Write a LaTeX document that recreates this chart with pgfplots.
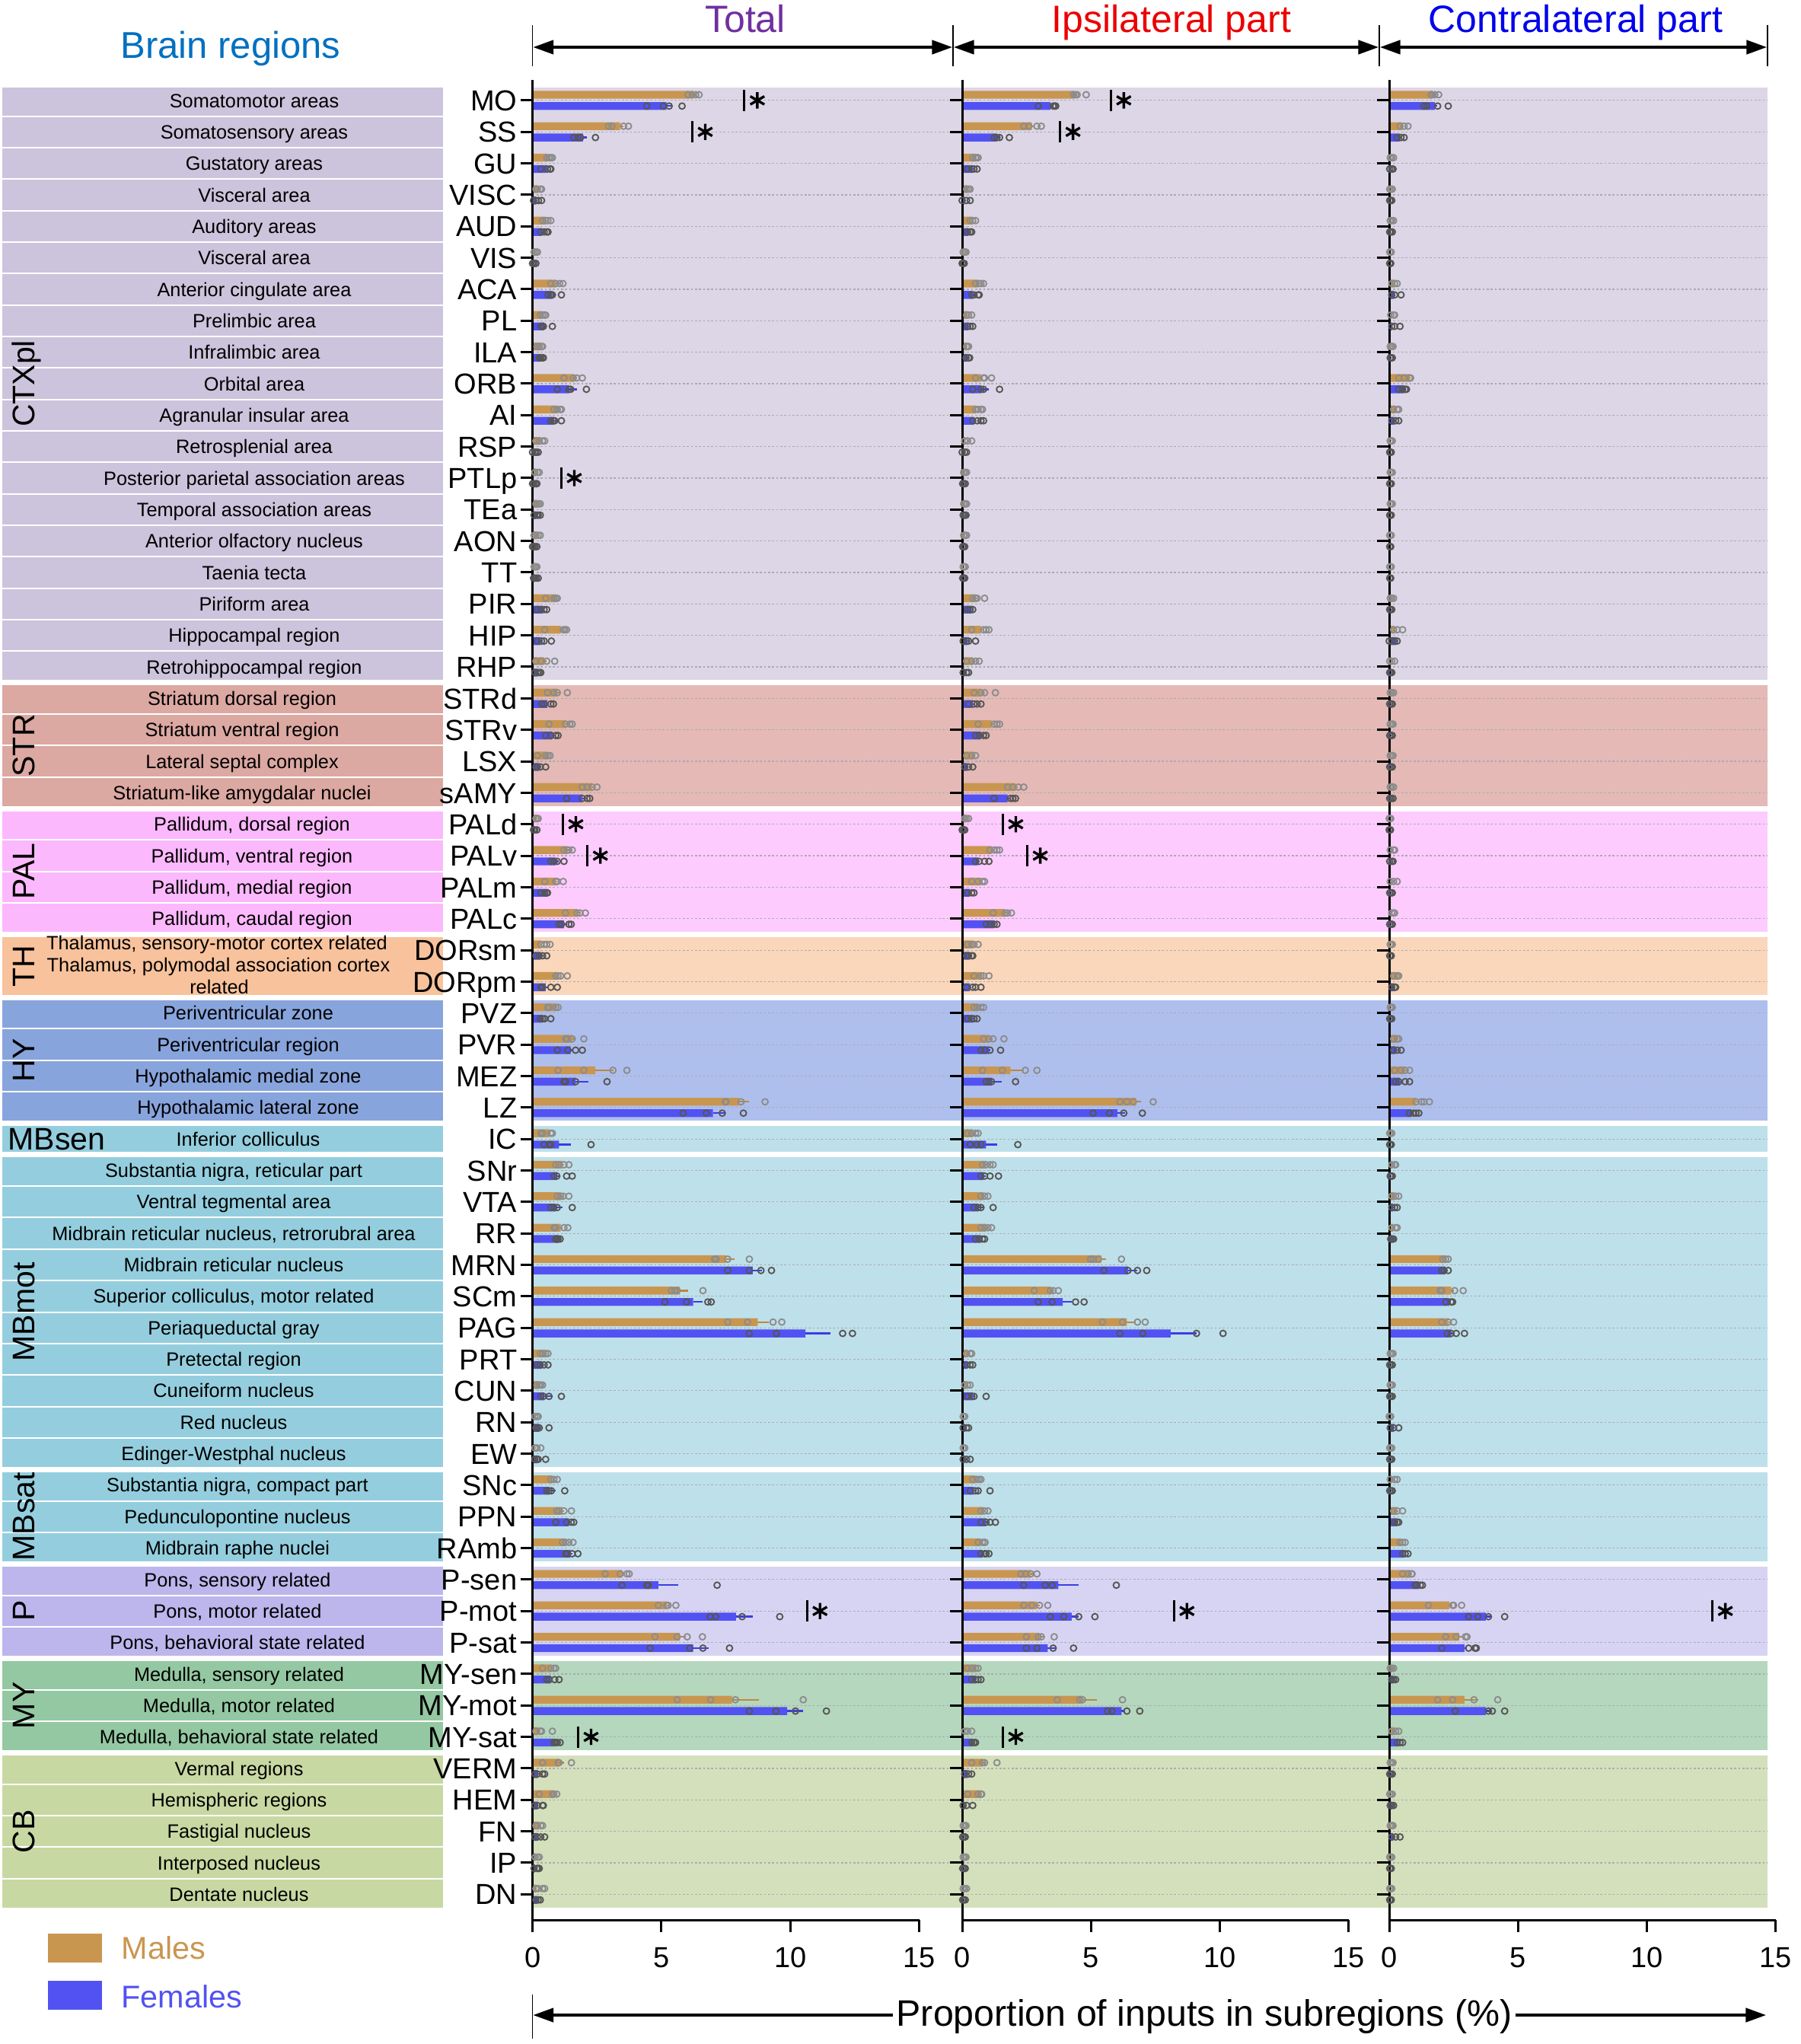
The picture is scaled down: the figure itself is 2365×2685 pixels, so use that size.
\documentclass[border=0pt]{standalone}
\usepackage{pgfplots}
\pgfplotsset{compat=1.18}
\usepackage{pgfplotstable}
\usepackage{fontspec}
\setmainfont{Liberation Sans}
\usetikzlibrary{arrows.meta}

\definecolor{male}{RGB}{201,150,80}
\definecolor{maleerr}{RGB}{190,135,60}
\definecolor{female}{RGB}{82,82,242}
\definecolor{femaleerr}{RGB}{60,60,230}
\definecolor{mpt}{RGB}{140,140,140}
\definecolor{fpt}{RGB}{85,85,85}
\definecolor{bxCTX}{RGB}{204,196,220}\definecolor{bdCTX}{RGB}{220,214,230}
\definecolor{bxSTR}{RGB}{220,168,162}\definecolor{bdSTR}{RGB}{228,185,182}
\definecolor{bxPAL}{RGB}{252,184,252}\definecolor{bdPAL}{RGB}{253,203,253}
\definecolor{bxTH}{RGB}{248,194,156}\definecolor{bdTH}{RGB}{250,214,186}
\definecolor{bxHY}{RGB}{136,164,220}\definecolor{bdHY}{RGB}{174,191,238}
\definecolor{bxMB}{RGB}{148,206,222}\definecolor{bdMB}{RGB}{190,224,234}
\definecolor{bxP}{RGB}{188,182,236}\definecolor{bdP}{RGB}{215,212,243}
\definecolor{bxMY}{RGB}{148,200,162}\definecolor{bdMY}{RGB}{180,215,189}
\definecolor{bxCB}{RGB}{200,216,162}\definecolor{bdCB}{RGB}{212,224,187}
\definecolor{gridc}{RGB}{170,170,180}
\definecolor{brc}{RGB}{0,112,192}
\definecolor{totc}{RGB}{112,48,160}
\definecolor{ipsc}{RGB}{235,0,0}
\definecolor{conc}{RGB}{0,0,235}

\newcommand\labfont{\fontsize{7.6}{8}\selectfont}
\newcommand\abbfont{\fontsize{11.4}{12}\selectfont}
\newcommand\grpfont{\fontsize{12.3}{13}\selectfont}
\newcommand\brfont{\fontsize{14.7}{15}\selectfont}
\newcommand\titfont{\fontsize{15}{16}\selectfont}
\newcommand\tickfont{\fontsize{11.4}{12}\selectfont}
\newcommand\botfont{\fontsize{14.5}{15}\selectfont}
\newcommand\legfont{\fontsize{12.4}{13}\selectfont}

% total
\pgfplotstableread{
i m me f fe a1 a2 a3 a4 b1 b2 b3 b4
0 6.23 0.12 5.20 0.22 6.03 6.20 6.33 6.46 4.43 5.07 5.30 5.80
1 3.40 0.12 1.96 0.15 2.95 3.08 3.53 3.72 1.60 1.76 1.86 2.44
2 0.58 0.06 0.55 0.06 0.55 0.64 0.71 0.77 0.32 0.58 0.68 0.71
3 0.19 0.04 0.13 0.03 0.13 0.19 0.30 0.35 0.04 0.13 0.23 0.35
4 0.51 0.05 0.38 0.05 0.39 0.51 0.60 0.71 0.32 0.45 0.55 0.60
5 0.10 0.03 0.04 0.02 0.06 0.13 0.19 nan 0.00 0.06 0.13 nan
6 0.90 0.08 0.77 0.12 0.71 0.90 1.05 1.18 0.60 0.71 0.77 1.12
7 0.38 0.05 0.45 0.08 0.30 0.39 0.47 0.51 0.32 0.39 0.42 0.77
8 0.32 0.04 0.32 0.04 0.17 0.26 0.35 0.39 0.26 0.32 0.39 0.42
9 1.60 0.12 1.41 0.32 1.22 1.58 1.71 1.93 0.96 1.41 1.48 2.09
10 0.96 0.06 0.83 0.08 0.83 0.96 1.07 1.12 0.71 0.81 0.86 1.12
11 0.32 0.06 0.06 0.03 0.13 0.26 0.39 0.47 0.00 0.09 0.15 0.22
12 0.13 0.03 0.06 0.03 0.09 0.19 0.26 nan 0.00 0.06 0.13 0.17
13 0.19 0.03 0.13 0.03 0.13 0.19 0.26 0.30 0.06 0.17 0.22 0.30
14 0.17 0.03 0.06 0.02 0.06 0.13 0.22 0.30 0.00 0.06 0.10 0.17
15 0.09 0.02 0.06 0.03 0.06 0.12 0.17 nan 0.04 0.09 0.15 0.22
16 0.90 0.06 0.39 0.05 0.51 0.83 0.90 0.96 0.19 0.32 0.45 0.55
17 1.09 0.10 0.32 0.08 0.47 1.19 1.25 1.32 0.19 0.35 0.45 0.73
18 0.45 0.08 0.19 0.03 0.13 0.32 0.55 0.86 0.09 0.19 0.26 0.32
19 0.96 0.10 0.58 0.05 0.58 0.83 0.96 1.35 0.35 0.45 0.71 0.81
20 1.28 0.06 0.77 0.06 0.64 1.28 1.45 1.54 0.51 0.71 0.90 0.99
21 0.58 0.06 0.26 0.04 0.19 0.51 0.60 0.68 0.13 0.19 0.30 0.51
22 2.31 0.10 1.93 0.10 1.93 2.12 2.31 2.50 1.32 1.93 2.12 2.22
23 0.17 0.03 0.06 0.03 0.13 0.19 0.22 nan 0.04 0.09 0.17 nan
24 1.35 0.05 0.90 0.12 1.22 1.35 1.41 1.54 0.71 0.83 0.96 1.22
25 0.90 0.07 0.58 0.03 0.47 0.90 0.96 1.19 0.32 0.47 0.55 0.58
26 1.73 0.10 1.22 0.12 1.28 1.73 1.84 2.05 1.03 1.12 1.41 1.50
27 0.32 0.05 0.32 0.05 0.32 0.45 0.55 0.68 0.13 0.26 0.39 0.55
28 0.96 0.06 0.51 0.06 0.90 0.99 1.09 1.35 0.32 0.39 0.71 0.96
29 0.90 0.05 0.38 0.05 0.58 0.64 0.90 0.99 0.30 0.39 0.47 0.71
30 1.54 0.10 1.48 0.10 1.28 1.35 1.54 1.99 0.96 1.37 1.67 1.93
31 2.44 0.71 1.67 0.49 0.99 1.99 3.12 3.66 1.22 1.28 1.67 2.89
32 8.02 0.39 7.00 0.48 7.48 7.51 8.09 9.02 5.84 6.74 7.36 8.18
33 0.64 0.06 1.03 0.45 0.32 0.39 0.71 0.77 0.45 0.64 0.71 2.27
34 1.16 0.06 0.96 0.10 0.90 1.03 1.22 1.41 0.83 0.94 1.32 1.54
35 1.09 0.06 0.90 0.26 0.96 1.09 1.19 1.41 0.71 0.83 0.96 1.54
36 1.09 0.06 1.03 0.04 0.83 0.90 1.22 1.37 0.90 0.96 0.99 1.07
37 7.50 0.33 8.54 0.36 7.06 7.12 7.57 8.41 7.57 8.41 8.86 9.27
38 5.71 0.32 6.23 0.38 5.39 5.52 5.61 6.61 5.13 5.97 6.80 6.93
39 8.73 0.45 10.59 0.96 7.57 8.34 9.33 9.67 8.41 9.46 12.03 12.41
40 0.51 0.05 0.38 0.05 0.30 0.39 0.51 0.60 0.19 0.30 0.45 0.60
41 0.26 0.04 0.45 0.26 0.17 0.26 0.32 0.39 0.32 0.42 0.64 1.12
42 0.06 0.02 0.26 0.06 0.09 0.17 0.22 nan 0.13 0.19 0.26 0.64
43 0.09 0.02 0.19 0.03 0.09 0.17 0.32 nan 0.09 0.17 0.22 0.51
44 0.77 0.05 0.64 0.26 0.71 0.83 0.96 nan 0.55 0.64 0.73 1.25
45 1.16 0.06 1.41 0.06 0.94 1.03 1.22 1.51 0.90 1.32 1.50 1.60
46 1.28 0.06 1.48 0.06 1.16 1.28 1.41 1.57 1.28 1.35 1.54 1.76
47 3.47 0.12 4.88 0.77 2.82 3.40 3.66 3.75 3.47 4.43 4.49 7.16
48 5.20 0.10 7.89 0.65 4.88 5.20 5.26 5.56 6.89 7.10 8.13 9.59
49 5.71 0.23 6.23 0.61 4.75 5.61 6.00 6.59 4.56 6.10 6.61 7.64
50 0.71 0.05 0.71 0.05 0.39 0.71 0.83 0.90 0.55 0.64 0.86 1.03
51 7.74 1.03 9.88 0.61 5.61 6.91 7.87 10.50 8.41 9.44 10.20 11.40
52 0.26 0.05 0.83 0.08 0.13 0.30 0.35 0.77 0.83 0.90 0.96 1.07
53 1.03 0.19 0.19 0.04 0.39 0.99 1.03 1.51 0.10 0.19 0.39 0.47
54 0.83 0.05 0.19 0.03 0.26 0.77 0.83 0.94 0.09 0.19 0.39 0.42
55 0.26 0.04 0.19 0.04 0.13 0.19 0.32 0.39 0.09 0.19 0.32 0.47
56 0.09 0.02 0.10 0.03 0.10 0.19 0.26 nan 0.06 0.17 0.22 0.26
57 0.13 0.03 0.19 0.03 0.13 0.22 0.39 0.47 0.13 0.22 0.30 nan
}\tot

% ipsilateral
\pgfplotstableread{
i m me f fe a1 a2 a3 a4 b1 b2 b3 b4
0 4.36 0.10 3.42 0.12 4.32 4.40 4.46 4.81 2.95 3.53 3.59 3.63
1 2.70 0.10 1.35 0.10 2.39 2.59 2.90 3.07 1.24 1.35 1.45 1.83
2 0.52 0.04 0.41 0.05 0.41 0.52 0.58 0.62 0.21 0.37 0.46 0.58
3 0.21 0.03 0.10 0.03 0.17 0.25 0.31 nan 0.00 0.17 0.31 nan
4 0.41 0.04 0.25 0.03 0.31 0.41 0.52 nan 0.21 0.31 0.37 nan
5 0.08 0.02 0.04 0.02 0.04 0.10 0.15 nan 0.00 0.04 0.08 nan
6 0.62 0.05 0.41 0.05 0.52 0.66 0.73 0.83 0.37 0.46 0.62 0.66
7 0.21 0.03 0.25 0.04 0.17 0.25 0.37 nan 0.21 0.31 0.41 nan
8 0.17 0.03 0.21 0.03 0.17 0.21 0.25 nan 0.15 0.25 0.29 nan
9 0.73 0.08 0.73 0.31 0.52 0.83 0.87 1.14 0.41 0.73 0.83 1.45
10 0.52 0.04 0.46 0.05 0.52 0.62 0.73 0.79 0.41 0.58 0.73 0.83
11 0.10 0.03 0.04 0.02 0.10 0.21 0.37 nan 0.00 0.10 0.17 nan
12 0.08 0.02 0.05 0.02 0.06 0.12 0.17 nan 0.02 0.06 0.12 nan
13 0.10 0.02 0.08 0.02 0.06 0.12 0.17 nan 0.04 0.10 0.15 nan
14 0.10 0.02 0.05 0.02 0.06 0.12 0.17 nan 0.02 0.06 0.10 nan
15 0.06 0.02 0.05 0.02 0.04 0.08 0.12 nan 0.02 0.06 0.10 nan
16 0.52 0.06 0.37 0.04 0.41 0.52 0.58 0.87 0.21 0.31 0.41 nan
17 0.73 0.08 0.21 0.05 0.37 0.83 0.93 1.04 0.04 0.17 0.25 0.52
18 0.41 0.05 0.10 0.03 0.17 0.37 0.52 0.66 0.04 0.17 0.25 nan
19 0.73 0.10 0.41 0.05 0.46 0.73 0.87 1.29 0.25 0.46 0.58 0.73
20 1.14 0.06 0.73 0.05 0.62 1.24 1.35 1.45 0.52 0.66 0.83 0.93
21 0.46 0.04 0.21 0.04 0.17 0.37 0.52 nan 0.10 0.25 0.41 nan
22 2.07 0.10 1.76 0.08 1.76 1.97 2.18 2.39 1.24 1.87 1.97 2.07
23 0.15 0.03 0.05 0.02 0.10 0.17 0.25 nan 0.00 0.06 0.10 nan
24 1.14 0.06 0.62 0.06 1.08 1.24 1.35 1.45 0.52 0.66 0.87 1.04
25 0.73 0.05 0.31 0.04 0.37 0.62 0.79 0.87 0.21 0.37 0.46 nan
26 1.66 0.08 1.24 0.06 1.20 1.66 1.76 1.91 0.93 1.08 1.24 1.35
27 0.41 0.04 0.31 0.03 0.21 0.37 0.46 0.62 0.17 0.25 0.37 0.41
28 0.73 0.06 0.31 0.05 0.46 0.73 0.83 1.04 0.17 0.41 0.52 0.73
29 0.62 0.04 0.41 0.04 0.46 0.58 0.73 0.83 0.21 0.37 0.46 0.58
30 1.04 0.08 1.04 0.06 0.83 1.04 1.20 1.62 0.73 0.87 1.08 1.49
31 1.87 0.52 1.14 0.41 0.79 1.56 2.45 2.90 0.93 1.04 1.14 2.07
32 6.74 0.20 6.02 0.31 6.12 6.39 6.64 7.41 5.08 5.71 6.27 6.99
33 0.41 0.05 0.93 0.42 0.21 0.37 0.52 0.62 0.31 0.58 0.73 2.16
34 0.93 0.06 0.83 0.10 0.79 0.93 1.08 1.20 0.73 0.87 1.08 1.41
35 0.83 0.04 0.62 0.25 0.73 0.87 1.00 nan 0.46 0.62 0.73 1.20
36 0.93 0.05 0.73 0.04 0.73 0.87 1.00 1.14 0.52 0.66 0.79 0.87
37 5.39 0.20 6.43 0.37 4.98 5.08 5.29 6.18 5.50 6.43 6.80 7.16
38 3.42 0.10 3.90 0.35 2.80 3.42 3.53 3.73 2.95 3.49 4.40 4.73
39 6.39 0.35 8.09 1.00 5.44 6.22 6.80 7.10 6.12 7.01 9.09 10.12
40 0.21 0.03 0.21 0.04 0.17 0.31 0.37 nan 0.17 0.31 0.41 nan
41 0.17 0.03 0.41 0.10 0.10 0.21 0.31 nan 0.21 0.37 0.46 0.93
42 0.06 0.02 0.12 0.03 0.04 0.10 nan nan 0.04 0.17 0.25 nan
43 0.06 0.02 0.10 0.03 0.04 0.10 nan nan 0.04 0.17 0.31 nan
44 0.52 0.04 0.46 0.10 0.41 0.58 0.66 0.73 0.31 0.52 0.62 1.08
45 0.83 0.05 0.93 0.06 0.73 0.87 1.00 nan 0.73 0.93 1.08 1.29
46 0.73 0.05 0.79 0.05 0.62 0.79 0.87 0.89 0.73 0.87 0.93 1.04
47 2.66 0.10 3.73 0.79 2.28 2.45 2.66 2.90 2.39 3.22 3.49 5.98
48 2.90 0.12 4.25 0.27 2.39 2.70 3.00 3.32 3.42 3.94 4.52 5.15
49 3.00 0.20 3.32 0.31 2.49 2.95 3.07 3.57 2.49 2.90 3.53 4.32
50 0.52 0.04 0.52 0.04 0.21 0.37 0.52 0.62 0.37 0.52 0.62 0.73
51 4.67 0.56 6.18 0.15 3.69 4.56 4.67 6.22 5.64 5.81 6.39 6.89
52 0.10 0.03 0.41 0.04 0.10 0.21 0.37 nan 0.37 0.46 0.52 nan
53 0.79 0.10 0.21 0.03 0.37 0.79 0.87 1.35 0.10 0.25 0.37 nan
54 0.73 0.05 0.10 0.03 0.21 0.62 0.73 0.76 0.04 0.17 0.41 nan
55 0.06 0.02 0.06 0.02 0.04 0.10 0.15 nan 0.02 0.08 0.12 nan
56 0.06 0.02 0.06 0.02 0.04 0.10 0.15 nan 0.02 0.08 0.12 nan
57 0.06 0.02 0.06 0.02 0.04 0.10 0.17 nan 0.02 0.06 0.12 nan
}\ips

% contralateral
\pgfplotstableread{
i m me f fe a1 a2 a3 a4 b1 b2 b3 b4
0 1.67 0.08 1.77 0.08 1.63 1.67 1.77 1.92 1.35 1.46 1.88 2.29
1 0.52 0.04 0.42 0.04 0.42 0.58 0.73 nan 0.31 0.46 0.58 nan
2 0.06 0.02 0.05 0.02 0.04 0.10 0.17 nan 0.02 0.10 0.15 nan
3 0.05 0.02 0.04 0.02 0.02 0.08 0.12 nan 0.02 0.06 0.10 nan
4 0.05 0.02 0.04 0.02 0.04 0.10 0.17 nan 0.02 0.06 0.12 nan
5 0.03 0.01 0.03 0.01 0.02 0.05 0.08 nan 0.02 0.04 0.06 nan
6 0.21 0.03 0.17 0.04 0.10 0.21 0.31 nan 0.10 0.21 0.46 nan
7 0.08 0.02 0.10 0.03 0.06 0.17 0.21 nan 0.10 0.21 0.42 nan
8 0.08 0.02 0.06 0.02 0.04 0.10 0.15 nan 0.04 0.08 0.12 nan
9 0.79 0.04 0.58 0.04 0.37 0.58 0.79 0.83 0.37 0.52 0.62 0.67
10 0.25 0.03 0.21 0.03 0.17 0.31 0.37 nan 0.10 0.25 0.37 nan
11 0.05 0.02 0.04 0.02 0.04 0.08 0.12 nan 0.02 0.05 0.08 nan
12 0.05 0.02 0.04 0.02 0.04 0.08 0.12 nan 0.02 0.05 0.08 nan
13 0.05 0.02 0.04 0.02 0.04 0.08 0.12 nan 0.02 0.05 0.08 nan
14 0.03 0.01 0.03 0.01 0.02 0.05 0.08 nan 0.02 0.04 0.06 nan
15 0.03 0.01 0.03 0.01 0.02 0.05 0.08 nan 0.02 0.04 0.06 nan
16 0.10 0.02 0.05 0.02 0.04 0.10 0.17 nan 0.02 0.06 0.10 nan
17 0.21 0.04 0.27 0.03 0.17 0.31 0.52 nan 0.00 0.10 0.21 0.31
18 0.08 0.02 0.05 0.02 0.02 0.10 0.21 nan 0.02 0.06 0.10 nan
19 0.08 0.02 0.06 0.02 0.04 0.10 0.17 nan 0.02 0.08 0.12 nan
20 0.06 0.02 0.06 0.02 0.04 0.10 0.15 nan 0.02 0.08 0.12 nan
21 0.06 0.02 0.06 0.02 0.04 0.10 0.15 nan 0.02 0.08 0.12 nan
22 0.06 0.02 0.06 0.02 0.04 0.10 0.17 nan 0.02 0.08 0.15 nan
23 0.02 0.01 0.02 0.01 0.00 0.04 0.06 nan 0.00 0.03 0.05 nan
24 0.08 0.02 0.06 0.02 0.04 0.17 0.21 nan 0.02 0.10 0.15 nan
25 0.10 0.02 0.06 0.02 0.04 0.17 0.31 nan 0.02 0.08 0.12 nan
26 0.10 0.02 0.06 0.02 0.10 0.17 0.21 nan 0.02 0.08 0.12 nan
27 0.05 0.02 0.04 0.02 0.04 0.08 0.12 nan 0.02 0.05 0.08 nan
28 0.37 0.04 0.21 0.03 0.17 0.31 0.37 nan 0.10 0.21 0.25 nan
29 0.06 0.02 0.05 0.02 0.04 0.08 0.12 nan 0.02 0.06 0.10 nan
30 0.31 0.03 0.25 0.03 0.17 0.31 0.37 nan 0.17 0.31 0.46 nan
31 0.62 0.05 0.42 0.06 0.21 0.46 0.62 0.79 0.25 0.37 0.62 0.79
32 1.04 0.08 0.87 0.04 1.04 1.25 1.35 1.56 0.79 0.94 1.04 1.15
33 0.05 0.02 0.04 0.02 0.02 0.06 0.10 nan 0.02 0.05 0.08 nan
34 0.10 0.02 0.06 0.02 0.10 0.21 0.25 nan 0.04 0.08 0.12 nan
35 0.21 0.03 0.15 0.03 0.10 0.25 0.37 nan 0.10 0.21 0.31 nan
36 0.15 0.03 0.12 0.02 0.10 0.25 0.31 nan 0.06 0.12 0.17 nan
37 2.19 0.05 2.19 0.05 2.08 2.19 2.29 nan 2.04 2.13 2.29 nan
38 2.40 0.10 2.33 0.05 1.98 2.04 2.54 2.87 2.19 2.40 2.46 nan
39 2.29 0.08 2.40 0.06 2.04 2.29 2.50 nan 2.25 2.40 2.60 2.92
40 0.06 0.02 0.05 0.02 0.04 0.10 0.15 nan 0.02 0.06 0.12 nan
41 0.06 0.02 0.05 0.02 0.04 0.08 0.12 nan 0.02 0.06 0.12 nan
42 0.02 0.01 0.17 0.04 0.00 0.04 0.06 nan 0.04 0.17 0.37 nan
43 0.05 0.02 0.05 0.02 0.02 0.06 0.10 nan 0.02 0.06 0.10 nan
44 0.10 0.02 0.06 0.02 0.04 0.21 0.31 nan 0.02 0.08 0.12 nan
45 0.31 0.04 0.31 0.03 0.17 0.31 0.52 nan 0.21 0.31 0.37 nan
46 0.46 0.04 0.58 0.04 0.42 0.52 0.62 nan 0.52 0.62 0.73 nan
47 0.83 0.05 1.15 0.05 0.52 0.73 0.87 0.89 1.00 1.08 1.21 1.29
48 2.33 0.12 3.75 0.21 1.52 2.46 2.50 2.81 3.08 3.44 3.85 4.48
49 2.71 0.12 2.92 0.10 2.19 2.60 2.96 3.02 2.04 3.08 3.33 3.38
50 0.10 0.02 0.15 0.03 0.04 0.10 0.17 nan 0.10 0.17 0.25 nan
51 2.92 0.52 3.75 0.21 1.88 2.46 3.29 4.21 2.56 3.85 4.00 4.48
52 0.21 0.03 0.37 0.04 0.10 0.25 0.37 nan 0.31 0.42 0.52 nan
53 0.06 0.02 0.05 0.02 0.04 0.10 0.15 nan 0.02 0.06 0.12 nan
54 0.05 0.02 0.10 0.02 0.02 0.08 0.12 nan 0.04 0.10 0.17 nan
55 0.05 0.02 0.15 0.03 0.04 0.10 0.15 nan 0.10 0.25 0.42 nan
56 0.05 0.02 0.04 0.02 0.02 0.06 0.10 nan 0.02 0.05 0.08 nan
57 0.05 0.02 0.04 0.02 0.02 0.06 0.10 nan 0.02 0.05 0.08 nan
}\con

% significance marks: x of bar line, row index
\pgfplotstableread{
x y
8.22 0
6.20 1
1.12 12
1.18 23
2.13 24
10.65 48
1.77 52
}\totsig
\pgfplotstableread{
x y
5.77 0
3.80 1
1.58 23
2.53 24
8.22 48
1.58 52
}\ipssig
\pgfplotstableread{
x y
12.54 48
}\consig

\pgfplotsset{panel/.style={
  scale only axis, width=152.4pt, height=725.15pt,
  anchor=north west,
  xmin=0, xmax=15, ymin=-57.82, ymax=0.65,
  axis x line*=bottom, axis y line*=left,
  axis line style={line width=0.9pt, black},
  tick style={line width=0.9pt, black},
  major tick length=4.8pt, tick align=outside,
  xtick={0,5,10,15}, xticklabels={0,5,10,15},
  xticklabel style={font=\tickfont, anchor=base, yshift=-13.8pt},
  ytick={-57,-56,...,0},
  clip=false, axis on top,
}}

\newcommand\panelplots[2]{%
  \addplot[xbar, bar width=0.25, bar shift=0pt, fill=male, draw=none,
    error bars/.cd, x dir=plus, x explicit, error mark=none,
    error bar style={line width=0.7pt, maleerr}]
    table[x=m, y expr=-\thisrow{i}+0.18, x error=me] {#1};
  \addplot[xbar, bar width=0.25, bar shift=0pt, fill=female, draw=none,
    error bars/.cd, x dir=plus, x explicit, error mark=none,
    error bar style={line width=0.7pt, femaleerr}]
    table[x=f, y expr=-\thisrow{i}-0.18, x error=fe] {#1};
  \pgfplotsinvokeforeach{1,2,3,4}{%
    \addplot[only marks, mark=o, mark size=1.2pt, color=mpt, mark options={line width=0.55pt}]
      table[x=a##1, y expr=-\thisrow{i}+0.18] {#1};
    \addplot[only marks, mark=o, mark size=1.2pt, color=fpt, mark options={line width=0.55pt}]
      table[x=b##1, y expr=-\thisrow{i}-0.18] {#1};
  }
  \addplot[only marks, mark=|, mark size=4.2pt, black, mark options={line width=0.9pt}]
    table[x=x, y expr=-\thisrow{y}] {#2};
  \addplot[only marks, mark=asterisk, mark size=3.2pt, black, mark options={line width=1pt}]
    table[x expr=\thisrow{x}+0.5, y expr=-\thisrow{y}] {#2};
}

\newcommand\grp[4]{%
  \pgfmathsetmacro\ytop{131.9+41.34*#1-17.2}%
  \pgfmathsetmacro\ybot{131.9+41.34*#2+17.2}%
  \fill[#3] (3,\ytop) rectangle (582,\ybot);%
  \fill[#4] (699.6,\ytop) rectangle (2322,\ybot);}
\newcommand\nm[3]{\pgfmathsetmacro\yc{131.9+41.34*#1+9.1}%
  \node[font=\labfont, anchor=base, inner sep=0pt] at (#2,\yc) {#3};}
\newcommand\gl[2]{\pgfmathsetmacro\yc{131.9+41.34*#1}%
  \node[font=\grpfont, rotate=90, anchor=base, inner sep=0pt] at (45,\yc) {#2};}

\begin{document}
\begin{tikzpicture}
\begin{scope}[x=0.3pt,y=-0.3pt]
\path[use as bounding box] (0,0) rectangle (2365,2685);
\grp{0}{18}{bxCTX}{bdCTX}
\grp{19}{22}{bxSTR}{bdSTR}
\grp{23}{26}{bxPAL}{bdPAL}
\grp{27}{28}{bxTH}{bdTH}
\grp{29}{32}{bxHY}{bdHY}
\grp{33}{33}{bxMB}{bdMB}
\grp{34}{43}{bxMB}{bdMB}
\grp{44}{46}{bxMB}{bdMB}
\grp{47}{49}{bxP}{bdP}
\grp{50}{52}{bxMY}{bdMY}
\grp{53}{57}{bxCB}{bdCB}
\foreach \i in {0,...,57}{\pgfmathsetmacro\yc{131.9+41.34*\i}
  \draw[gridc, line width=0.35pt, dash pattern=on 0.8pt off 0.8pt] (699.6,\yc) -- (2322,\yc);}
\foreach \i in {1,...,27,29,30,...,57}{\pgfmathsetmacro\yc{131.9+41.34*\i-20.67}
  \draw[white, line width=0.6pt] (3,\yc) -- (582,\yc);}
% group labels
\gl{9}{CTXpl}\gl{20.5}{STR}\gl{24.5}{PAL}\gl{27.5}{TH}\gl{30.5}{HY}
\gl{38.5}{MBmot}\gl{45}{MBsat}\gl{48}{P}\gl{51}{MY}\gl{55}{CB}
\node[font=\grpfont, anchor=base west, inner sep=0pt] at (10,1510) {MBsen};
% names
\nm{0}{334}{Somatomotor areas}
\nm{1}{334}{Somatosensory areas}
\nm{2}{334}{Gustatory areas}
\nm{3}{334}{Visceral area}
\nm{4}{334}{Auditory areas}
\nm{5}{334}{Visceral area}
\nm{6}{334}{Anterior cingulate area}
\nm{7}{334}{Prelimbic area}
\nm{8}{334}{Infralimbic area}
\nm{9}{334}{Orbital area}
\nm{10}{334}{Agranular insular area}
\nm{11}{334}{Retrosplenial area}
\nm{12}{334}{Posterior parietal association areas}
\nm{13}{334}{Temporal association areas}
\nm{14}{334}{Anterior olfactory nucleus}
\nm{15}{334}{Taenia tecta}
\nm{16}{334}{Piriform area}
\nm{17}{334}{Hippocampal region}
\nm{18}{334}{Retrohippocampal region}
\nm{19}{318}{Striatum dorsal region}
\nm{20}{318}{Striatum ventral region}
\nm{21}{318}{Lateral septal complex}
\nm{22}{318}{Striatum-like amygdalar nuclei}
\nm{23}{331}{Pallidum, dorsal region}
\nm{24}{331}{Pallidum, ventral region}
\nm{25}{331}{Pallidum, medial region}
\nm{26}{331}{Pallidum, caudal region}
\node[font=\labfont, anchor=base, inner sep=0pt] at (285,1247) {Thalamus, sensory-motor cortex related};
\node[font=\labfont, anchor=base, inner sep=0pt] at (287,1276) {Thalamus, polymodal association cortex};
\node[font=\labfont, anchor=base, inner sep=0pt] at (288,1305) {related};
\nm{29}{326}{Periventricular zone}
\nm{30}{326}{Periventricular region}
\nm{31}{326}{Hypothalamic medial zone}
\nm{32}{326}{Hypothalamic lateral zone}
\nm{33}{326}{Inferior colliculus}
\nm{34}{307}{Substantia nigra, reticular part}
\nm{35}{307}{Ventral tegmental area}
\nm{36}{307}{Midbrain reticular nucleus, retrorubral area}
\nm{37}{307}{Midbrain reticular nucleus}
\nm{38}{307}{Superior colliculus, motor related}
\nm{39}{307}{Periaqueductal gray}
\nm{40}{307}{Pretectal region}
\nm{41}{307}{Cuneiform nucleus}
\nm{42}{307}{Red nucleus}
\nm{43}{307}{Edinger-Westphal nucleus}
\nm{44}{312}{Substantia nigra, compact part}
\nm{45}{312}{Pedunculopontine nucleus}
\nm{46}{312}{Midbrain raphe nuclei}
\nm{47}{312}{Pons, sensory related}
\nm{48}{312}{Pons, motor related}
\nm{49}{312}{Pons, behavioral state related}
\nm{50}{314}{Medulla, sensory related}
\nm{51}{314}{Medulla, motor related}
\nm{52}{314}{Medulla, behavioral state related}
\nm{53}{314}{Vermal regions}
\nm{54}{314}{Hemispheric regions}
\nm{55}{314}{Fastigial nucleus}
\nm{56}{314}{Interposed nucleus}
\nm{57}{314}{Dentate nucleus}
% headers
\node[font=\brfont, text=brc, anchor=base, inner sep=0pt] at (303,76) {Brain regions};
\node[font=\titfont, text=totc, anchor=base, inner sep=0pt] at (979,42) {Total};
\node[font=\titfont, text=ipsc, anchor=base, inner sep=0pt] at (1539,42) {Ipsilateral part};
\node[font=\titfont, text=conc, anchor=base, inner sep=0pt] at (2070,42) {Contralateral part};
\foreach \x in {699.6,1252,1812,2322} \draw[line width=0.5pt] (\x,33) -- (\x,87);
\draw[{Triangle[length=8pt,width=5.5pt]}-{Triangle[length=8pt,width=5.5pt]}, line width=1pt] (700.5,62) -- (1251,62);
\draw[{Triangle[length=8pt,width=5.5pt]}-{Triangle[length=8pt,width=5.5pt]}, line width=1pt] (1253,62) -- (1811,62);
\draw[{Triangle[length=8pt,width=5.5pt]}-{Triangle[length=8pt,width=5.5pt]}, line width=1pt] (1813,62) -- (2321,62);
% bottom
\draw[line width=0.5pt] (699.6,2620) -- (699.6,2678);
\draw[{Triangle[length=8pt,width=5.5pt]}-{Triangle[length=8pt,width=5.5pt]}, line width=1pt] (700.5,2647) -- (2320,2647);
\node[font=\botfont, fill=white, anchor=base, inner sep=1.5pt] at (1582,2661) {Proportion of inputs in subregions (\%)};
% legend
\fill[male] (63,2540) rectangle (134,2578);
\fill[female] (63,2602) rectangle (134,2640);
\node[font=\legfont, text=male, anchor=base west, inner sep=0pt] at (159,2573) {Males};
\node[font=\legfont, text=female, anchor=base west, inner sep=0pt] at (159,2637) {Females};
\end{scope}

\begin{axis}[panel, at={(209.88pt,-31.5pt)},
  yticklabels={DN,IP,FN,HEM,VERM,MY-sat,MY-mot,MY-sen,P-sat,P-mot,P-sen,RAmb,PPN,SNc,EW,RN,CUN,PRT,PAG,SCm,MRN,RR,VTA,SNr,IC,LZ,MEZ,PVR,PVZ,DORpm,DORsm,PALc,PALm,PALv,PALd,sAMY,LSX,STRv,STRd,RHP,HIP,PIR,TT,AON,TEa,PTLp,RSP,AI,ORB,ILA,PL,ACA,VIS,AUD,VISC,GU,SS,MO},
  yticklabel style={font=\abbfont, anchor=base east, yshift=-4.1pt, inner sep=1.1pt}]
\panelplots{\tot}{\totsig}
\end{axis}
\begin{axis}[panel, at={(379.2pt,-31.5pt)}, yticklabels={}, yticklabel style={text opacity=0}]
\panelplots{\ips}{\ipssig}
\end{axis}
\begin{axis}[panel, at={(547.5pt,-31.5pt)}, yticklabels={}, yticklabel style={text opacity=0}]
\panelplots{\con}{\consig}
\end{axis}
\end{tikzpicture}
\end{document}
